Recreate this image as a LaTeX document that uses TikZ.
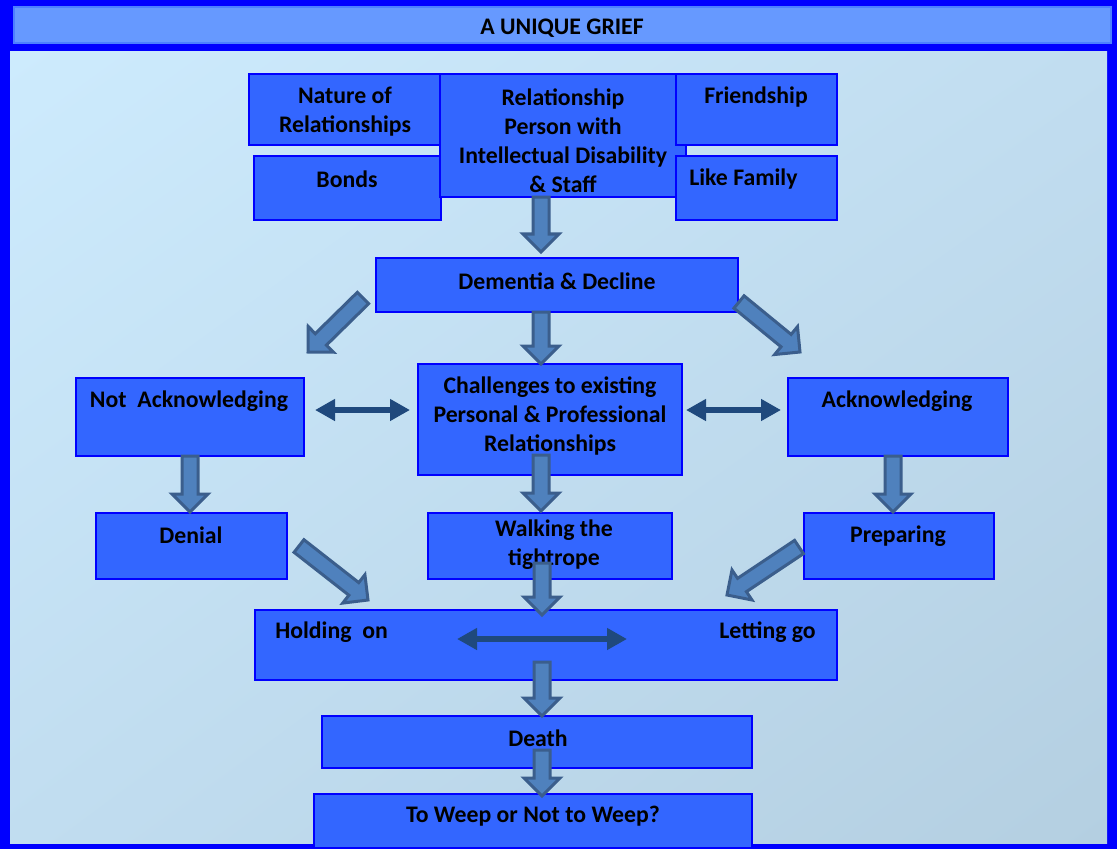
\documentclass[tikz,border=0pt]{standalone}
\usepackage{fontspec}
\setmainfont{Carlito}
\usetikzlibrary{calc,arrows.meta,shadings}
\definecolor{bordblue}{HTML}{0000FF}
\definecolor{titlebar}{HTML}{6699FF}
\definecolor{titleline}{HTML}{4D80FF}
\definecolor{boxfill}{HTML}{3366FF}
\definecolor{bgA}{HTML}{CDEBFD}
\definecolor{bgB}{HTML}{C1DDF0}
\definecolor{bgC}{HTML}{B4CFE1}
\definecolor{arrfill}{HTML}{4F81BD}
\definecolor{arrdraw}{HTML}{3B5E8C}
\definecolor{dblarr}{HTML}{1F497D}
\tikzset{
  box/.style={draw=bordblue, fill=boxfill, line width=1.6pt, rectangle, inner sep=0pt},
  txt/.style={font=\bfseries\fontsize{16.9}{20.6}\selectfont, align=center, inner sep=0pt, text=black},
  blockarr/.style={fill=arrfill, draw=arrdraw, line width=0.075cm, line join=miter},
  dbl/.style={draw=dblarr, line width=0.16cm, {Triangle[length=0.5cm,width=0.52cm]}-{Triangle[length=0.5cm,width=0.52cm]}},
}
\newcommand\blockarrow[2]{%
  \coordinate (ba-h) at ($(#2)!0.45cm!(#1)$);
  \filldraw[blockarr] ($(#1)!0.2cm!90:(#2)$) -- ($(ba-h)!0.2cm!-90:(#1)$) -- ($(ba-h)!0.45cm!-90:(#1)$) -- (#2) -- ($(ba-h)!0.45cm!90:(#1)$) -- ($(ba-h)!0.2cm!90:(#1)$) -- ($(#1)!0.2cm!-90:(#2)$) -- cycle;}
\begin{document}
\begin{tikzpicture}[x=0.025cm, y=-0.025cm]
\useasboundingbox (0,0) rectangle (1117,849);
% frame
\fill[bordblue] (0,0) rectangle (1117,849);
\fill[titlebar, draw=titleline, line width=0.8pt] (14,7) rectangle (1111,43);
\shade[upper left=bgA, upper right=bgB, lower left=bgB, lower right=bgC] (10,51) rectangle (1107,843);
\node[txt] (title) at (562,28) {A UNIQUE GRIEF};

% boxes
\node[box, minimum width=192*0.025cm, minimum height=71*0.025cm] (nat) at (345,109.5) {};
\node[box, minimum width=187*0.025cm, minimum height=64*0.025cm] (bonds) at (347.5,188) {};
\node[box, minimum width=246*0.025cm, minimum height=123*0.025cm] (rel) at (563,135.5) {};
\node[box, minimum width=161*0.025cm, minimum height=71*0.025cm] (fr) at (756.5,109.5) {};
\node[box, minimum width=161*0.025cm, minimum height=64*0.025cm] (lf) at (756.5,188) {};
\node[box, minimum width=362*0.025cm, minimum height=54*0.025cm] (dem) at (557,285) {};
\node[box, minimum width=228*0.025cm, minimum height=78*0.025cm] (na) at (190,417) {};
\node[box, minimum width=264*0.025cm, minimum height=111*0.025cm] (ch) at (550,419.5) {};
\node[box, minimum width=220*0.025cm, minimum height=78*0.025cm] (ack) at (898,417) {};
\node[box, minimum width=191*0.025cm, minimum height=66*0.025cm] (den) at (191.5,546) {};
\node[box, minimum width=244*0.025cm, minimum height=66*0.025cm] (walk) at (550,546) {};
\node[box, minimum width=190*0.025cm, minimum height=66*0.025cm] (prep) at (899,546) {};
\node[box, minimum width=582*0.025cm, minimum height=70*0.025cm] (hold) at (546,645) {};
\node[box, minimum width=430*0.025cm, minimum height=52*0.025cm] (death) at (537,742) {};
\node[box, minimum width=438*0.025cm, minimum height=54*0.025cm] (weep) at (533,821) {};

% texts
\node[txt] at (345,112) {Nature of\\Relationships};
\node[txt] at (347,179) {Bonds};
\node[txt] at (563,141) {Relationship\\Person with\\Intellectual Disability\\\& Staff};
\node[txt] at (756,97) {Friendship};
\node[txt, anchor=west] at (689,179) {Like Family};
\node[txt] at (557,281) {Dementia \& Decline};
\node[txt] at (189,401) {Not\ \ Acknowledging};
\node[txt] at (550,416) {Challenges to existing\\Personal \& Professional\\Relationships};
\node[txt] at (897,401) {Acknowledging};
\node[txt] at (191,535) {Denial};
\node[txt] at (554,545) {Walking the\\tightrope};
\node[txt] at (898,536) {Preparing};
\node[txt, anchor=west] at (275,632) {Holding\ \ on};
\node[txt, anchor=east] at (816,632) {Letting go};
\node[txt] at (538,738) {Death};
\node[txt] at (533,816) {To Weep or Not to Weep?};

% arrow end points
\coordinate (a1t) at (541,197); \coordinate (a1h) at (541,252);
\coordinate (a2t) at (541,312); \coordinate (a2h) at (541,364);
\coordinate (dlt) at (363,298); \coordinate (dlh) at (308,352);
\coordinate (drt) at (739,302); \coordinate (drh) at (800,352);
\coordinate (a3t) at (190,456); \coordinate (a3h) at (190,512);
\coordinate (a4t) at (541,455); \coordinate (a4h) at (541,511);
\coordinate (a5t) at (893,456); \coordinate (a5h) at (893,512);
\coordinate (ddt) at (299,546); \coordinate (ddh) at (368,600);
\coordinate (dpt) at (799,547); \coordinate (dph) at (727,595);
\coordinate (a6t) at (542,563); \coordinate (a6h) at (542,615);
\coordinate (a7t) at (542,662); \coordinate (a7h) at (542,716);
\coordinate (a8t) at (542,750); \coordinate (a8h) at (542,796);

\blockarrow{a1t}{a1h}
\blockarrow{a2t}{a2h}
\blockarrow{dlt}{dlh}
\blockarrow{drt}{drh}
\blockarrow{a3t}{a3h}
\blockarrow{a4t}{a4h}
\blockarrow{a5t}{a5h}
\blockarrow{ddt}{ddh}
\blockarrow{dpt}{dph}
\blockarrow{a6t}{a6h}
\blockarrow{a7t}{a7h}
\blockarrow{a8t}{a8h}

% double arrows
\coordinate (d1a) at (315,410); \coordinate (d1b) at (410,410);
\coordinate (d2a) at (686,410); \coordinate (d2b) at (781,410);
\coordinate (d3a) at (457,639); \coordinate (d3b) at (627,639);
\draw[dbl] (d1a) -- (d1b);
\draw[dbl] (d2a) -- (d2b);
\draw[dbl] (d3a) -- (d3b);
\end{tikzpicture}
\end{document}
